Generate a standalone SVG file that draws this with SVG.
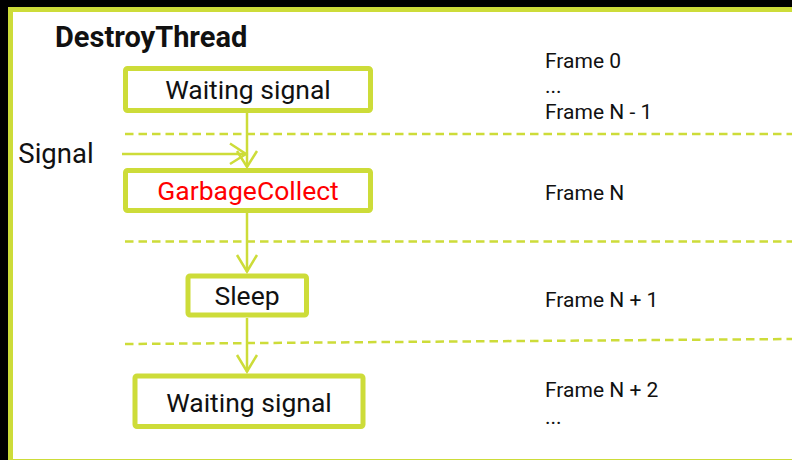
<svg xmlns="http://www.w3.org/2000/svg" width="792" height="460" viewBox="0 0 792 460">
<defs>
<style>
.node rect{fill:#fff;stroke:#cddc39;stroke-width:5}
.lbl{font-family:Roboto,"Liberation Sans",sans-serif;font-size:26.5px;fill:#111;text-anchor:middle}
.side{font-family:Roboto,"Liberation Sans",sans-serif;font-size:21px;fill:#111}
.conn line,.conn path{stroke:#cddc39;stroke-width:2.5;fill:none}
.dash{stroke:#cddc39;stroke-width:2.5;stroke-dasharray:8.5 5;fill:none}
</style>
</defs>
<rect x="0" y="0" width="792" height="460" fill="#000"/>
<rect x="10.5" y="9.5" width="800" height="452" fill="#fff" stroke="#cddc39" stroke-width="5"/>
<text x="55" y="47" font-family="Roboto,'Liberation Sans',sans-serif" font-size="29" font-weight="bold" fill="#111">DestroyThread</text>

<g id="separators">
<line class="dash" x1="125" y1="134" x2="792" y2="134"/>
<line class="dash" x1="125" y1="241.5" x2="792" y2="241.5"/>
<line class="dash" x1="125" y1="344" x2="792" y2="339"/>
</g>

<g class="conn" id="connectors">
<line x1="247" y1="113" x2="247" y2="167"/>
<path d="M237,151 L247,167 L257,151"/>
<line x1="122" y1="154" x2="246" y2="154"/>
<path d="M230,143.5 L246,154 L230,164"/>
<line x1="247" y1="213" x2="247" y2="272"/>
<path d="M237,255 L247,271.5 L257,255"/>
<line x1="247" y1="318" x2="247" y2="372"/>
<path d="M237,355 L247,371.5 L257,355"/>
</g>

<g id="n-wait1" class="node">
<rect x="125.5" y="68.5" width="245" height="42" rx="2"/>
<text class="lbl" x="248" y="99">Waiting signal</text>
</g>
<g id="n-gc" class="node">
<rect x="125.5" y="170.5" width="245" height="40" rx="2"/>
<text class="lbl" x="248" y="200" style="fill:#ff0000">GarbageCollect</text>
</g>
<g id="n-sleep" class="node">
<rect x="188" y="276" width="118.5" height="39" rx="2"/>
<text class="lbl" x="247" y="305">Sleep</text>
</g>
<g id="n-wait2" class="node">
<rect x="135" y="376" width="228" height="50.5" rx="2"/>
<text class="lbl" x="249" y="412">Waiting signal</text>
</g>

<text class="lbl" x="56" y="163" style="font-size:27.5px">Signal</text>

<g id="frames">
<text class="side" x="545" y="68">Frame 0</text>
<text class="side" x="545" y="93">...</text>
<text class="side" x="545" y="119">Frame N - 1</text>
<text class="side" x="545" y="200">Frame N</text>
<text class="side" x="545" y="306.5">Frame N + 1</text>
<text class="side" x="545" y="397">Frame N + 2</text>
<text class="side" x="545" y="424">...</text>
</g>
</svg>
